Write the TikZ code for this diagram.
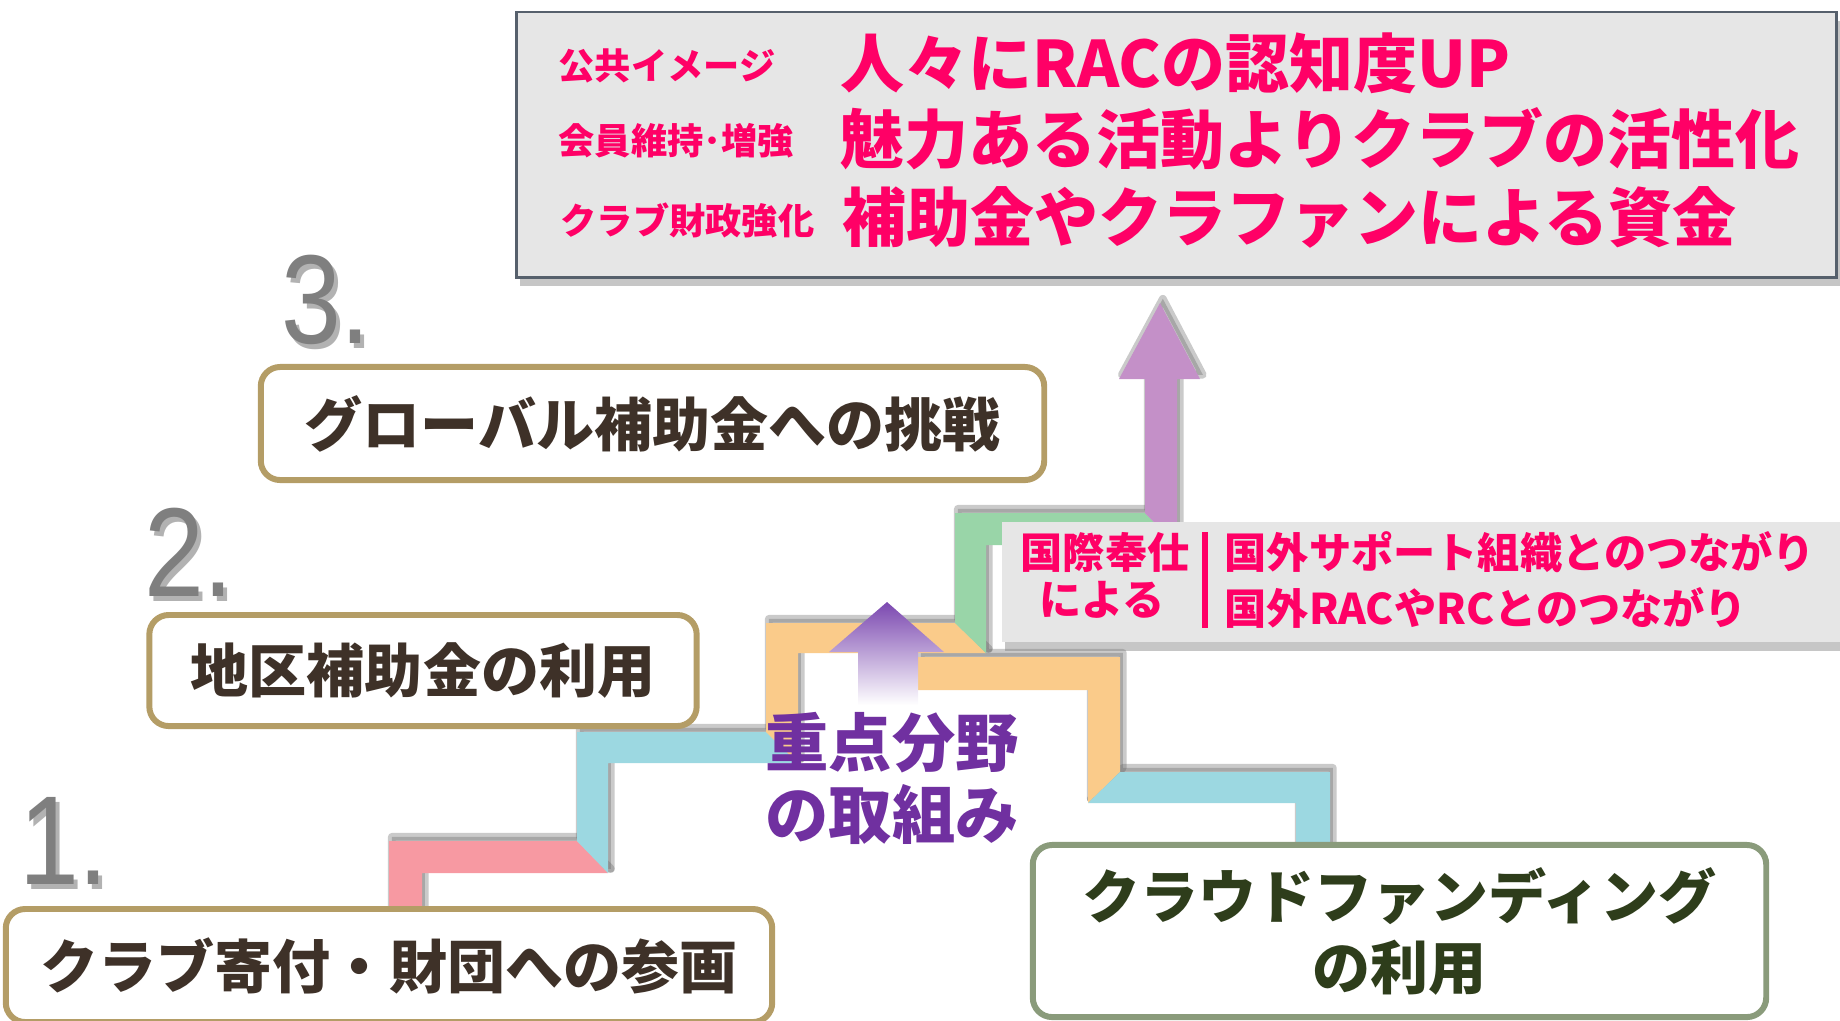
\documentclass[tikz,border=0pt]{standalone}
\usepackage{fontspec}
\usepackage{tikz}
\usetikzlibrary{shadows,positioning}
\newfontfamily\jpfont{Noto Sans CJK JP}
\newfontfamily\numfont{Liberation Sans}[FakeStretch=0.85]
\definecolor{hotpink}{HTML}{FF0066}
\definecolor{inkbrown}{HTML}{3E3128}
\definecolor{inkgreen}{HTML}{2E3D1B}
\definecolor{numgray}{HTML}{7F7F7F}
\definecolor{goldline}{HTML}{B49D66}
\definecolor{sageline}{HTML}{8A9B7B}
\definecolor{panelgray}{HTML}{E6E6E6}
\definecolor{slate}{HTML}{56606C}
\definecolor{stepred}{HTML}{F799A2}
\definecolor{stepblue}{HTML}{9CD8E1}
\definecolor{steporange}{HTML}{FACB8A}
\definecolor{stepgreen}{HTML}{99D5A8}
\definecolor{steppurple}{HTML}{C490C8}
\definecolor{focuspurple}{HTML}{7030A0}
\definecolor{arrowpurple}{HTML}{7B48B0}
\tikzset{
  panel/.style={fill=panelgray, inner sep=0pt, drop shadow={shadow xshift=1pt, shadow yshift=-2.5pt, opacity=0.45}},
  headline/.style={font=\jpfont\bfseries\fontsize{18.2}{20}\selectfont, text=hotpink, anchor=west, inner sep=0pt},
  tagline/.style={font=\jpfont\bfseries\fontsize{10.3}{12}\selectfont, text=hotpink, anchor=west, inner sep=0pt},
  intltag/.style={font=\jpfont\bfseries\fontsize{12}{14}\selectfont, text=hotpink, inner sep=0pt},
  stepbox/.style={draw=goldline, line width=1.7pt, rounded corners=5.5pt, fill=white, text=inkbrown,
    font=\jpfont\bfseries\fontsize{16.5}{20.2}\selectfont},
  stepnum/.style={font=\numfont\fontsize{36}{36}\selectfont, text=numgray, inner sep=0pt},
  numshade/.style={font=\numfont\fontsize{36}{36}\selectfont, text=black!30, inner sep=0pt},
  bandshade/.style={draw=black!60, fill=black!60, line width=2.2pt, line join=round, opacity=0.35,
    xshift=0.8pt, yshift=1.2pt},
  focus/.style={font=\jpfont\bfseries\fontsize{18}{20.5}\selectfont, text=focuspurple, align=center, inner sep=0pt}
}
% staircase bands (px, y down)
\def\bandred{(389,915) -- (389,841) -- (577,841) -- (608,873) -- (422,873) -- (422,915) -- cycle}
\def\bandblueL{(577,841) -- (577,732) -- (766,732) -- (798,763) -- (608,763) -- (608,873) -- cycle}
\def\bandorangeL{(766,732) -- (766,623) -- (955,623) -- (986,653) -- (798,653) -- (798,763) -- cycle}
\def\bandgreen{(955,623) -- (955,513) -- (1145,513) -- (1177,545) -- (986,545) -- (986,653) -- cycle}
\def\bandpurple{(1145,513) -- (1145,379) -- (1119,379) -- (1160,303) -- (1200,379) -- (1177,379) -- (1177,545) -- cycle}
\def\bandorangeR{(918,657) -- (1120,657) -- (1120,772) -- (1088,803) -- (1088,690) -- (918,690) -- cycle}
\def\bandblueR{(1120,772) -- (1330,772) -- (1330,850) -- (1296,850) -- (1296,803) -- (1088,803) -- cycle}
\begin{document}
\begin{tikzpicture}[x=0.01cm,y=-0.01cm]
  \useasboundingbox (0,0) rectangle (1840,1020);
  % goals panel
  \node[panel, draw=slate, line width=0.8pt, minimum width=13.19cm, minimum height=2.65cm] (goals) at (1176.5,144.5) {};
  \node[tagline] (tag1) at (558,66) {公共イメージ};
  \node[tagline] (tag2) at (558,141) {会員維持･増強};
  \node[tagline] (tag3) at (560,220) {クラブ財政強化};
  \node[headline] (head1) at (840,63) {人々にRACの認知度UP};
  \node[headline] (head2) at (840,139) {魅力ある活動よりクラブの活性化};
  \node[headline] (head3) at (842,217) {補助金やクラファンによる資金};

  % stairs
  \foreach \bnd in {\bandred,\bandblueL,\bandorangeL,\bandgreen,\bandpurple,\bandorangeR,\bandblueR}
    \filldraw[bandshade] \bnd;
  \fill[stepred] \bandred;
  \fill[stepblue] \bandblueL;
  \fill[steporange] \bandorangeL;
  \fill[stepgreen] \bandgreen;
  \fill[steppurple] \bandpurple;
  \fill[steporange] \bandorangeR;
  \fill[stepblue] \bandblueR;
  \shade[top color=arrowpurple, bottom color=white]
    (858,705) -- (858,652) -- (829,652) -- (887,602) -- (944,652) -- (918,652) -- (918,705) -- cycle;

  % international service
  \node[panel, minimum width=8.48cm, minimum height=1.2cm] (intlpanel) at (1426,582) {};
  \node[intltag] (intl) at (1105,552) {国際奉仕};
  \node[intltag] (intlby) at (1102,600) {による};
  \draw[hotpink, line width=1.6pt] (1205,532) -- (1205,628);
  \node[intltag, anchor=west] (link1) at (1224,552) {国外サポート組織とのつながり};
  \node[intltag, anchor=west] (link2) at (1224,608) {国外RACやRCとのつながり};

  % step boxes
  \node[stepbox, minimum width=7.83cm, minimum height=1.13cm] (global) at (652.5,423.5) {グローバル補助金への挑戦};
  \node[stepbox, minimum width=5.47cm, minimum height=1.11cm] (district) at (423,670.5) {地区補助金の利用};
  \node[stepbox, minimum width=7.66cm, minimum height=1.13cm] (donate) at (389,965.5) {クラブ寄付・財団への参画};
  \node[stepbox, draw=sageline, text=inkgreen, align=center, minimum width=7.33cm, minimum height=1.72cm] (crowd) at (1399.5,931)
    {クラウドファンディング\\の利用};

  \node[focus] (focus) at (892,778) {重点分野\\の取組み};

  % step numbers
  \foreach \num/\x/\y in {3/326/300,2/189/552,1/64/841} {
    \node[numshade] at (\x+4,\y+5) {\num.};
    \node[stepnum] (num\num) at (\x,\y) {\num.};
  }
\end{tikzpicture}
\end{document}
